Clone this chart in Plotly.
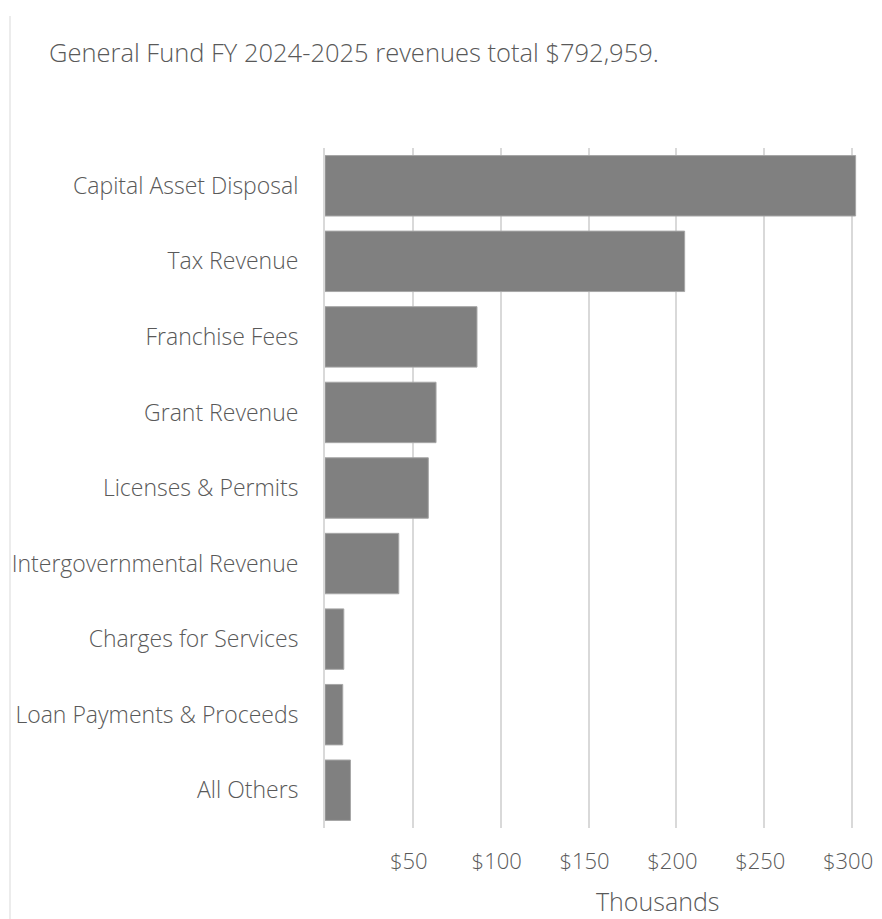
import plotly.graph_objects as go

# Werte in Tausend $, oben -> unten wie im Bild
categories = [
    "Capital Asset Disposal",
    "Tax Revenue",
    "Franchise Fees",
    "Grant Revenue",
    "Licenses & Permits",
    "Intergovernmental Revenue",
    "Charges for Services",
    "Loan Payments & Proceeds",
    "All Others",
]
values_k = [302.0, 204.7, 86.5, 63.2, 58.8, 42.0, 10.7, 10.1, 14.5]
tick_vals = [50, 100, 150, 200, 250, 300]
tick_text = ["$50", "$100", "$150", "$200", "$250", "$300"]

_FONT = "Segoe UI, Open Sans, sans-serif"
_TEXT = "#595959"
_GRID = "#d9d9d9"
_BAR = "#808080"

# Seite hat 8px Body-Rand -> Figur kleiner, Koordinaten um 8 verschoben
OFF = 8
W, H = 882 - OFF, 919 - OFF
M_L, M_R, M_T = 325 - OFF, 882 - 860, 148 - OFF
M_B = H - (828 - OFF)
plot_w = W - M_L - M_R
plot_h = H - M_T - M_B


def px_x(x):
    return (x - OFF - M_L) / plot_w


def px_y(y):
    return 1 - (y - OFF - M_T) / plot_h


fig = go.Figure(go.Bar(
    x=values_k, y=categories, orientation="h",
    marker=dict(color=_BAR, line=dict(color="#a6a6a6", width=1)),
))

fig.update_layout(
    width=W, height=H,
    margin=dict(l=M_L, r=M_R, t=M_T, b=M_B),
    paper_bgcolor="white", plot_bgcolor="white",
    bargap=0.2, showlegend=False,
    font=dict(family=_FONT, color=_TEXT, size=23, weight=300),
    xaxis=dict(
        range=[0, 304.5], tickvals=tick_vals, ticktext=tick_text,
        showgrid=True, gridcolor=_GRID, gridwidth=2,
        zeroline=False, showline=False, automargin=False,
        ticks="", ticklabelstandoff=18, ticklabelshift=-4,
        ticklabeloverflow="allow",
        tickfont=dict(size=22, color=_TEXT, weight=300),
        fixedrange=True,
    ),
    yaxis=dict(
        autorange="reversed", showgrid=False, automargin=False,
        showline=True, linecolor=_GRID, linewidth=2,
        ticks="", ticklabelstandoff=20,
        tickfont=dict(size=23, color=_TEXT, weight=300),
    ),
    annotations=[
        dict(text="General Fund FY 2024-2025 revenues total $792,959.",
             xref="paper", yref="paper", x=px_x(47), y=px_y(52),
             xanchor="left", yanchor="middle", showarrow=False,
             font=dict(size=25.5, color=_TEXT, weight=300)),
        dict(text="Thousands", xref="paper", yref="paper",
             x=px_x(657), y=px_y(901),
             xanchor="center", yanchor="middle", showarrow=False,
             font=dict(size=25, color=_TEXT, weight=300)),
    ],
    shapes=[
        dict(type="line", xref="paper", yref="paper",
             x0=px_x(10), x1=px_x(10), y0=px_y(925), y1=px_y(16),
             line=dict(color=_GRID, width=1)),
    ],
)

fig.write_html("out.html")
